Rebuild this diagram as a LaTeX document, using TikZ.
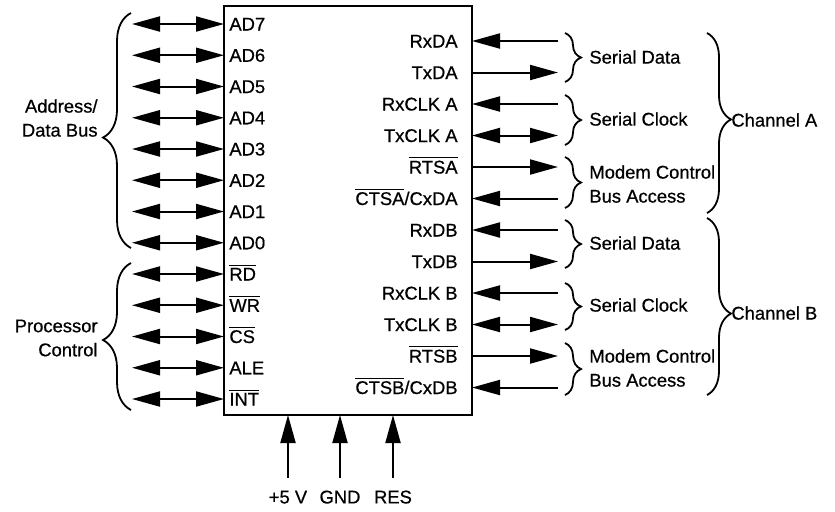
\documentclass[tikz,border=0pt]{standalone}
\usepackage{fontspec}
\setmainfont{Liberation Sans}
\newfontfamily\pinfamily[FakeBold=0.6]{Liberation Sans}
\usetikzlibrary{arrows.meta,decorations.pathreplacing}
\newcommand\pinfont{\pinfamily\fontsize{9.2}{12}\selectfont}
\newcommand\ovl[1]{$\overline{\mbox{#1}}$}
\tikzset{
  pinline/.style={line width=1pt},
  pinlabel/.style={font=\pinfont,inner sep=0pt,text height=6.5pt,text depth=0pt},
  grplabel/.style={font=\pinfont,inner sep=0pt,anchor=west,align=left},
  grpbrace/.style={decorate,decoration={brace,amplitude=#1},line width=0.9pt},
  grpbrace/.default=8pt
}
\begin{document}
\begin{tikzpicture}[x=0.5pt,y=-0.5pt,>={Triangle[length=14pt,width=7.5pt]}]
  \useasboundingbox (0,0) rectangle (835,511);
  % the chip
  \node[draw,line width=1pt,minimum width=124pt,minimum height=204.5pt,inner sep=0pt] (chip) at (348,210.5) {};
  % processor side
  \foreach \lab [count=\ri from 0] in {AD7,AD6,AD5,AD4,AD3,AD2,AD1,AD0,\ovl{RD},\ovl{WR},\ovl{CS},ALE,\ovl{INT}}{
    \pgfmathsetmacro\y{24+\ri*31.25}
    \node[pinlabel,anchor=west] (lp\ri) at (229,\y) {\lab};
    \coordinate (lb\ri) at (224,\y);
    \coordinate (le\ri) at (132,\y);
    \draw[pinline,<->] (le\ri) -- (lb\ri);
  }
  % serial side
  \foreach \lab/\dir [count=\ri from 0] in {RxDA/<-,TxDA/->,RxCLK A/<-,TxCLK A/<->,\ovl{RTSA}/->,{\ovl{CTSA}/CxDA}/<-,
      RxDB/<-,TxDB/->,RxCLK B/<-,TxCLK B/<->,\ovl{RTSB}/->,{\ovl{CTSB}/CxDB}/<-}{
    \pgfmathsetmacro\y{41+\ri*31.5}
    \node[pinlabel,anchor=east] (rp\ri) at (458,\y) {\lab};
    \coordinate (rb\ri) at (472,\y);
    \coordinate (re\ri) at (558,\y);
    \draw[pinline,\dir] (rb\ri) -- (re\ri);
  }
  % power and reset
  \foreach \lab/\x [count=\bi] in {+5 V/288,GND/340,RES/393}{
    \coordinate (bb\bi) at (\x,415);
    \coordinate (be\bi) at (\x,478);
    \draw[pinline,->] (be\bi) -- (bb\bi);
    \node[pinlabel,anchor=north] (bl\bi) at (\x,490) {\lab};
  }
  % left groups
  \draw[grpbrace=14pt,decoration={aspect=0.47}] (131,248) -- (131,13);
  \draw[grpbrace=14pt,decoration={aspect=0.476}] (131,410) -- (131,263);
  \node[grplabel,anchor=east,align=right] (adbus) at (98,118) {Address/\\Data Bus};
  \node[grplabel,anchor=east,align=right] (pctl) at (98,338) {Processor\\Control};
  % right groups
  \draw[grpbrace] (565,33) -- (565,82);
  \draw[grpbrace] (565,95) -- (565,145);
  \draw[grpbrace] (565,157) -- (565,208);
  \draw[grpbrace] (565,220) -- (565,268);
  \draw[grpbrace] (565,283) -- (565,330);
  \draw[grpbrace] (565,343) -- (565,395);
  \node[grplabel] (sdA) at (589,57) {Serial Data};
  \node[grplabel] (scA) at (589,119) {Serial Clock};
  \node[grplabel] (mcA) at (589,184) {Modem Control\\Bus Access};
  \node[grplabel] (sdB) at (589,243) {Serial Data};
  \node[grplabel] (scB) at (589,305) {Serial Clock};
  \node[grplabel] (mcB) at (589,368) {Modem Control\\Bus Access};
  % channels
  \draw[grpbrace=12pt,decoration={aspect=0.48}] (707,33) -- (707,213);
  \draw[grpbrace=12pt,decoration={aspect=0.54}] (707,218) -- (707,395);
  \node[grplabel] (chA) at (731,120) {Channel A};
  \node[grplabel] (chB) at (731,313) {Channel B};
\end{tikzpicture}
\end{document}
